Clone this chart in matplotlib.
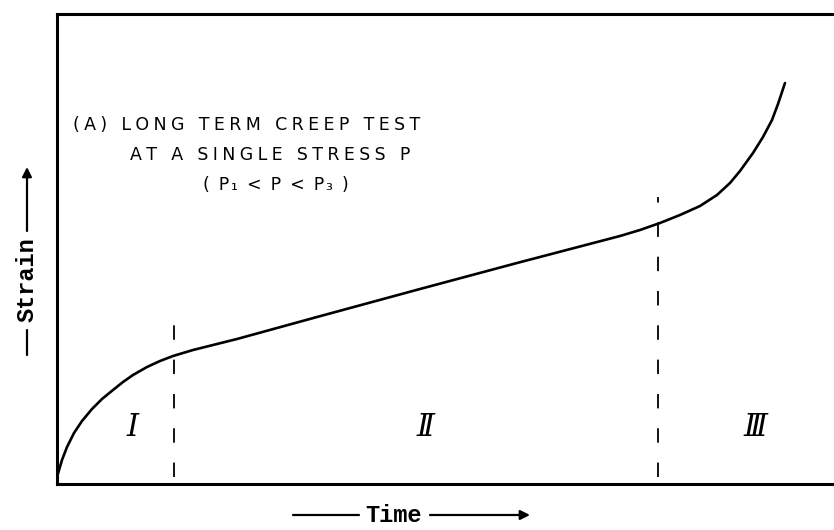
import numpy as np
import matplotlib
matplotlib.use('Agg')
import matplotlib.pyplot as plt

# creep curve (arbitrary units: time, strain)
time = [0, 5, 10, 17, 25, 35, 45, 56, 66, 76, 90, 103, 116, 136, 156, 180,
        260, 363, 460, 563, 583, 603, 623, 643, 660, 673, 683, 696, 706,
        715, 721, 728]
strain = [7, 24, 37, 51, 63, 75, 85, 94, 102, 109, 117, 123, 128, 134, 139, 145,
          167, 195, 221, 248, 254, 261, 269, 278, 289, 301, 313, 331, 347,
          364, 380, 401]

# boundaries between the creep stages
stage_x = [117, 601]
stage_top = [167, 287]
stage_labels = ['Ⅰ', 'Ⅱ', 'Ⅲ']
stage_label_x = [75, 368, 698]
stage_label_y = 57

note_lines = ['(A) LONG TERM CREEP TEST', 'AT A SINGLE STRESS P', '( P₁ < P < P₃ )']
note_x = [16, 73, 146]
note_y = [359, 329, 299]
note_gap = ['\u2005', '\u2005', '\u200a']   # letter spacing per line

W, H = 834, 530
fig = plt.figure(figsize=(W / 100, H / 100), dpi=100)
ax = fig.add_axes([57 / W, 46 / H, 1 - 57 / W, 470 / H])
ax.set_xlim(0, 777)
ax.set_ylim(0, 470)

ax.plot(time, strain, color='black', lw=1.9, solid_joinstyle='round', solid_capstyle='round')

for x, top in zip(stage_x, stage_top):
    ax.plot([x, x], [7, top], color='black', lw=1.3, linestyle=(0, (8, 11)))

for lab, x in zip(stage_labels, stage_label_x):
    ax.text(x, stage_label_y, lab, fontsize=22, style='italic', family='DejaVu Serif',
            ha='center', va='center')

# wide letter spacing like the hand lettering
for s, x, y, gap in zip(note_lines, note_x, note_y, note_gap):
    ax.text(x, y, gap.join(s), fontsize=12.5, va='center', ha='left')

for side in ['left', 'top', 'bottom']:
    ax.spines[side].set_linewidth(2.2)
ax.spines['right'].set_visible(False)
ax.set_xticks([])
ax.set_yticks([])

def px(x, y):
    return (x / W, 1 - y / H)

# axis labels with arrows, drawn in figure space
arrow = dict(arrowstyle='-|>', color='black', lw=1.6, mutation_scale=14, shrinkA=0, shrinkB=0)
fig.add_artist(matplotlib.patches.FancyArrowPatch(px(27, 355), px(27, 167),
               transform=fig.transFigure, **arrow))
fig.text(*px(27, 280), 'Strain', rotation=90, family='Liberation Mono', weight='bold',
         fontsize=17, ha='center', va='center', backgroundcolor='white')
fig.add_artist(matplotlib.patches.FancyArrowPatch(px(293, 515), px(530, 515),
               transform=fig.transFigure, **arrow))
fig.text(*px(394, 515), 'Time', family='Liberation Mono', weight='bold',
         fontsize=17, ha='center', va='center', backgroundcolor='white')

fig.savefig('out.png', dpi=100)
